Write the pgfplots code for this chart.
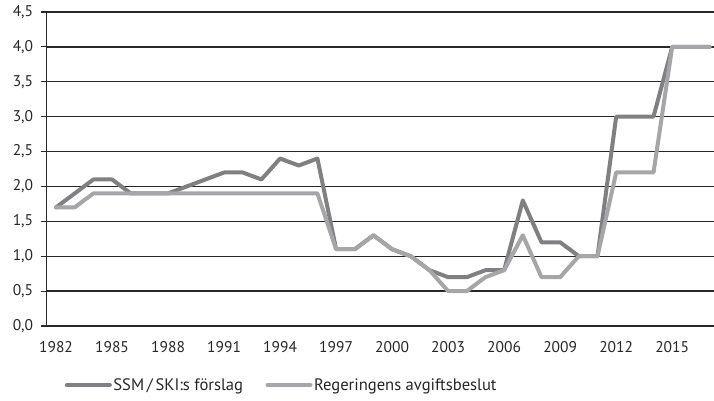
\documentclass[border=0pt]{standalone}
\usepackage{pgfplots}
\pgfplotsset{compat=1.18}
\usepackage{fontspec}
\setmainfont{PT Sans}
\usetikzlibrary{calc}
\definecolor{dgray}{RGB}{128,128,130}
\definecolor{lgray}{RGB}{166,166,168}
\definecolor{gline}{RGB}{40,40,40}
\begin{document}
\begin{tikzpicture}
\begin{axis}[
  name=ax,
  at={(0,0)}, anchor=south west,
  scale only axis,
  width=667.3pt, height=314pt,
  xmin=1981.5, xmax=2017.24,
  ymin=0, ymax=4.5,
  axis x line*=bottom, axis y line*=left,
  axis line style={gline, line width=1.5pt},
  xtick={1982,1985,...,2015},
  xticklabel style={/pgf/number format/1000 sep={}, yshift=-6pt},
  x tick style={draw=none},
  ytick={0,0.5,...,4.5},
  yticklabel style={/pgf/number format/.cd, fixed, fixed zerofill, precision=1, use comma, /tikz/.cd, xshift=-4pt},
  y tick style={gline, line width=1.2pt},
  tick align=outside,
  major tick length=6pt,
  ymajorgrids,
  grid style={gline, line width=1.4pt},
  /pgf/number format/assume math mode=true,
  tick label style={font=\fontsize{15.5}{18}\selectfont, text=black!85},
  legend columns=2,
  legend style={draw=none, fill=none, at={(0,0)}, anchor=west,
     xshift=15pt, yshift=-59pt,
     nodes={inner sep=1.5pt},
     font=\fontsize{16.6}{19}\selectfont, text=black!85,
     /tikz/every even column/.append style={column sep=21pt}},
  legend image code/.code={\draw[#1, line cap=round] (0pt,0pt) -- (43pt,0pt);},
]
\addplot[dgray, line width=4pt, line join=round, line cap=round] coordinates {
(1982,1.7)(1983,1.9)(1984,2.1)(1985,2.1)(1986,1.9)(1987,1.9)(1988,1.9)(1989,2.0)
(1990,2.1)(1991,2.2)(1992,2.2)(1993,2.1)(1994,2.4)(1995,2.3)(1996,2.4)(1997,1.1)
(1998,1.1)(1999,1.3)(2000,1.1)(2001,1.0)(2002,0.8)(2003,0.7)(2004,0.7)(2005,0.8)
(2006,0.8)(2007,1.8)(2008,1.2)(2009,1.2)(2010,1.0)(2011,1.0)(2012,3.0)(2013,3.0)
(2014,3.0)(2015,4.0)(2016,4.0)(2017,4.0)};
\addlegendentry{SSM\,/\,SKI:s förslag}
\addplot[lgray, line width=4pt, line join=round, line cap=round] coordinates {
(1982,1.7)(1983,1.7)(1984,1.9)(1985,1.9)(1986,1.9)(1987,1.9)(1988,1.9)(1989,1.9)
(1990,1.9)(1991,1.9)(1992,1.9)(1993,1.9)(1994,1.9)(1995,1.9)(1996,1.9)(1997,1.1)
(1998,1.1)(1999,1.3)(2000,1.1)(2001,1.0)(2002,0.8)(2003,0.5)(2004,0.5)(2005,0.7)
(2006,0.8)(2007,1.3)(2008,0.7)(2009,0.7)(2010,1.0)(2011,1.0)(2012,2.2)(2013,2.2)
(2014,2.2)(2015,4.0)(2016,4.0)(2017,4.0)};
\addlegendentry{Regeringens avgiftsbeslut}
\end{axis}
\pgfresetboundingbox
\path ($(ax.south west)+(-46.7pt,-75pt)$) rectangle ++(714pt,401pt);
\end{tikzpicture}
\end{document}
